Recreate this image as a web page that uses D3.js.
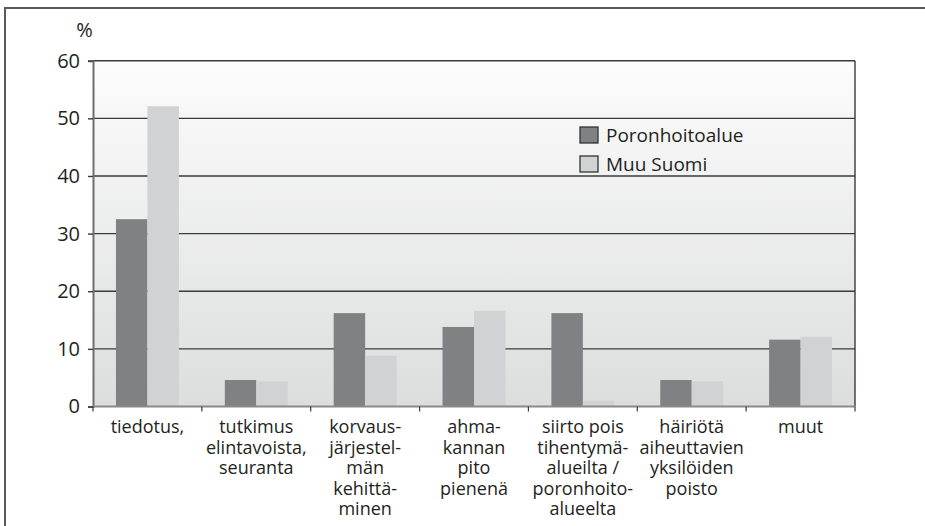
<!DOCTYPE html>
<html>
<head>
<meta charset="utf-8">
<script src="https://cdn.jsdelivr.net/npm/d3@7"></script>
<style>
  body { margin: 0; background: #fff; }
  text { font-family: "Open Sans", sans-serif; fill: #231f20; }
</style>
</head>
<body>
<div id="chart"></div>
<script>
// categories, one entry per group, lines of the label
const categories = ["tiedotus", "tutkimus", "korvaus", "ahma", "siirto", "hairiota", "muut"];
const categoryLines = [
  ["tiedotus,"],
  ["tutkimus", "elintavoista,", "seuranta"],
  ["korvaus-", "järjestel-", "män", "kehittä-", "minen"],
  ["ahma-", "kannan", "pito", "pienenä"],
  ["siirto pois", "tihentymä-", "alueilta /", "poronhoito-", "alueelta"],
  ["häiriötä", "aiheuttavien", "yksilöiden", "poisto"],
  ["muut"]
];
const seriesNames = ["Poronhoitoalue", "Muu Suomi"];
const poronhoitoalue = [32.5, 4.6, 16.2, 13.8, 16.2, 4.6, 11.6];
const muuSuomi = [52.1, 4.4, 8.8, 16.6, 1.0, 4.4, 12.1];
const yTicks = [0, 10, 20, 30, 40, 50, 60];

const W = 925, H = 526;
const plotLeft = 93, plotRight = 855, plotTop = 60.7, plotBottom = 406.5;

const svg = d3.select("#chart").append("svg")
  .attr("width", W)
  .attr("height", H);

// plot background gradient
const grad = svg.append("defs").append("linearGradient")
  .attr("id", "bg")
  .attr("x1", 0).attr("y1", 0).attr("x2", 0).attr("y2", 1);
grad.append("stop").attr("offset", "0%").attr("stop-color", "#fcfcfc");
grad.append("stop").attr("offset", "100%").attr("stop-color", "#dcdddd");

// outer frame (top and left only)
svg.append("path")
  .attr("d", `M5,${H} L5,8 L${W},8`)
  .attr("fill", "none")
  .attr("stroke", "#5a5a5a")
  .attr("stroke-width", 2);

const x = d3.scaleBand().domain(categories).range([plotLeft, plotRight]);
const x1 = d3.scaleBand().domain(seriesNames).range([0, x.bandwidth()])
  .paddingInner(0).paddingOuter(0.73);
const y = d3.scaleLinear().domain([0, 60]).range([plotBottom, plotTop]);
const color = d3.scaleOrdinal().domain(seriesNames).range(["#808182", "#d1d2d4"]);

svg.append("rect")
  .attr("x", plotLeft).attr("y", plotTop)
  .attr("width", plotRight - plotLeft).attr("height", plotBottom - plotTop)
  .attr("fill", "url(#bg)");

// gridlines
svg.append("g")
  .selectAll("line")
  .data(yTicks.filter(d => d > 0))
  .enter()
  .append("line")
  .attr("x1", plotLeft).attr("x2", plotRight)
  .attr("y1", d => y(d)).attr("y2", d => y(d))
  .attr("stroke", "#3a3a3a")
  .attr("stroke-width", 1.4);

// bars
const rows = categories.map((c, i) => ({
  cat: c,
  values: [
    { key: seriesNames[0], v: poronhoitoalue[i] },
    { key: seriesNames[1], v: muuSuomi[i] }
  ]
}));

svg.append("g")
  .selectAll("g")
  .data(rows)
  .enter()
  .append("g")
  .attr("transform", d => "translate(" + x(d.cat) + ",0)")
  .selectAll("rect")
  .data(d => d.values)
  .enter()
  .append("rect")
  .attr("x", d => x1(d.key))
  .attr("width", x1.bandwidth())
  .attr("y", d => y(d.v))
  .attr("height", d => y(0) - y(d.v))
  .attr("fill", d => color(d.key));

// right edge of plot
svg.append("line")
  .attr("x1", plotRight).attr("x2", plotRight)
  .attr("y1", plotTop).attr("y2", plotBottom)
  .attr("stroke", "#3a3a3a")
  .attr("stroke-width", 1.4);

// y axis
const yAxis = svg.append("g")
  .attr("transform", "translate(" + plotLeft + ",0)")
  .call(d3.axisLeft(y).tickValues(yTicks).tickSize(5).tickPadding(8));
yAxis.select(".domain").attr("stroke", "#6e6e6e").attr("stroke-width", 2);
yAxis.selectAll(".tick line").attr("stroke", "#3a3a3a").attr("stroke-width", 1.4);
yAxis.selectAll(".tick text")
  .attr("font-size", 20)
  .attr("font-family", "Open Sans, sans-serif")
  .attr("fill", "#231f20");

svg.append("text")
  .attr("x", 84.5).attr("y", 37)
  .attr("text-anchor", "middle")
  .attr("font-size", 20)
  .text("%");

// x axis line and ticks
svg.append("line")
  .attr("x1", plotLeft).attr("x2", plotRight)
  .attr("y1", plotBottom).attr("y2", plotBottom)
  .attr("stroke", "#8a8a8a")
  .attr("stroke-width", 2);

const bounds = categories.map(c => x(c)).concat([plotRight]);
svg.append("g")
  .selectAll("line")
  .data(bounds)
  .enter()
  .append("line")
  .attr("x1", d => d).attr("x2", d => d)
  .attr("y1", plotBottom).attr("y2", plotBottom + 5)
  .attr("stroke", "#3a3a3a")
  .attr("stroke-width", 1.2);

// category labels
const labels = svg.append("g")
  .selectAll("text")
  .data(categories)
  .enter()
  .append("text")
  .attr("text-anchor", "middle")
  .attr("font-size", 18)
  .attr("transform", d => "translate(" + (x(d) + x.bandwidth() / 2) + ",433)");

labels.selectAll("tspan")
  .data((d, i) => categoryLines[i])
  .enter()
  .append("tspan")
  .attr("x", 0)
  .attr("y", (d, i) => i * 20.5)
  .text(d => d);

// legend
const legend = svg.append("g")
  .selectAll("g")
  .data(seriesNames)
  .enter()
  .append("g")
  .attr("transform", (d, i) => "translate(580," + (127 + i * 29) + ")");

legend.append("rect")
  .attr("width", 18).attr("height", 16)
  .attr("fill", d => color(d))
  .attr("stroke", "#333")
  .attr("stroke-width", 1.3);

legend.append("text")
  .attr("x", 26).attr("y", 15)
  .attr("font-size", 19)
  .text(d => d);
</script>
</body>
</html>
